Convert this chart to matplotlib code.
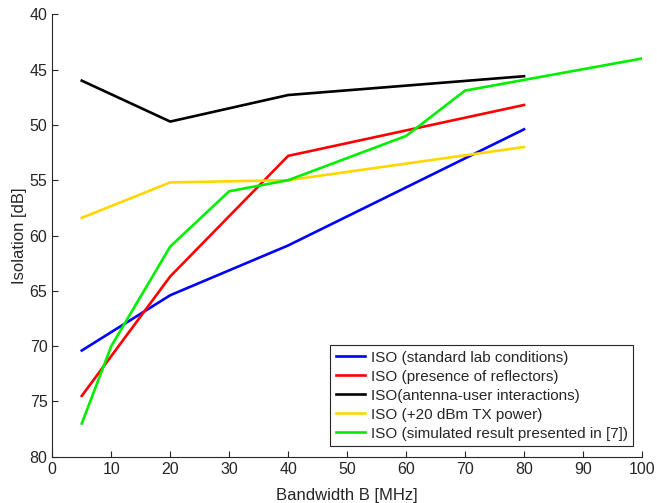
import numpy as np
import matplotlib
matplotlib.use("Agg")
import matplotlib.pyplot as plt

plt.rcParams['font.family'] = ['Liberation Sans', 'DejaVu Sans']

# measured isolation vs bandwidth
bw_meas = [5, 20, 40, 80]
iso_std = [70.4, 65.4, 60.9, 50.4]
iso_refl = [74.5, 63.7, 52.8, 48.2]
iso_user = [46.0, 49.7, 47.3, 45.6]
iso_tx20 = [58.4, 55.2, 55.0, 52.0]

# simulated result
bw_sim = [5, 10, 20, 30, 40, 60, 70, 100]
iso_sim = [77.0, 70.0, 61.0, 56.0, 55.0, 51.0, 46.9, 44.0]

labels = ['ISO (standard lab conditions)',
          'ISO (presence of reflectors)',
          'ISO(antenna-user interactions)',
          'ISO (+20 dBm TX power)',
          'ISO (simulated result presented in [7])']
colors = ['#0000ff', '#ff0000', '#000000', '#ffd700', '#00ee00']

txt = '#262626'

fig = plt.figure(figsize=(6.57, 5.03), dpi=100)
ax = fig.add_axes([0.0796, 0.092, 0.8975, 0.8796])

series = [(bw_meas, iso_std), (bw_meas, iso_refl), (bw_meas, iso_user),
          (bw_meas, iso_tx20), (bw_sim, iso_sim)]
for (x, y), lab, col in zip(series, labels, colors):
    ax.plot(x, y, color=col, lw=1.9, label=lab)

ax.set_xlim(0, 100)
ax.set_ylim(80, 40)
ax.set_xticks(np.arange(0, 101, 10))
ax.set_yticks(np.arange(40, 81, 5))
ax.spines['top'].set_visible(False)
ax.spines['right'].set_visible(False)
for s in ['left', 'bottom']:
    ax.spines[s].set_color(txt)
    ax.spines[s].set_linewidth(0.8)
ax.tick_params(direction='in', length=4, colors=txt, labelsize=11.5)

ax.set_xlabel('Bandwidth B [MHz]', fontsize=12, color=txt, labelpad=8)
ax.set_ylabel('Isolation [dB]', fontsize=12, color=txt, labelpad=2)

leg = ax.legend(loc='lower right', bbox_to_anchor=(0.985, 0.024),
                fontsize=11, frameon=True, fancybox=False, framealpha=1,
                handlelength=1.9, handletextpad=0.4, borderpad=0.35,
                labelspacing=0.33, borderaxespad=0)
leg.get_frame().set_edgecolor(txt)
leg.get_frame().set_linewidth(0.8)
for t in leg.get_texts():
    t.set_color(txt)

fig.savefig('out.png', dpi=100)
